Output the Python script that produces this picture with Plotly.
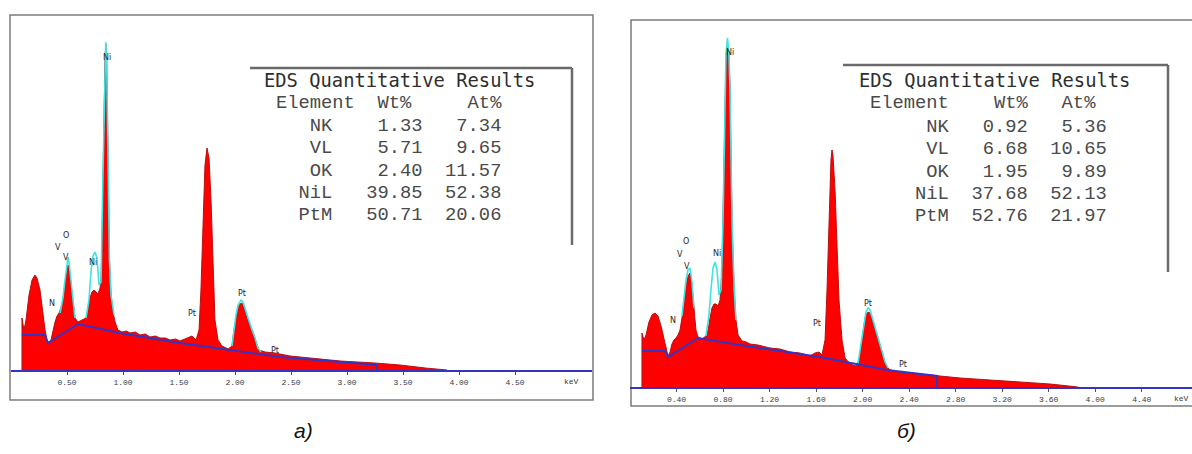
import plotly.graph_objects as go

W, H = 1192, 454

# ---------------- panel (a): EDS spectrum, energy in keV, counts in arb. units
energy_a = [0.098, 0.098, 0.116, 0.134, 0.161, 0.188, 0.214, 0.232, 0.259, 0.286, 0.304, 0.321,
            0.339, 0.357, 0.375, 0.393, 0.411, 0.429, 0.446, 0.464, 0.482, 0.500, 0.509, 0.518,
            0.536, 0.554, 0.571, 0.598, 0.634, 0.670, 0.688, 0.705, 0.723, 0.741, 0.759, 0.777,
            0.795, 0.804, 0.813, 0.821, 0.830, 0.839, 0.846, 0.854, 0.862, 0.871, 0.879, 0.893,
            0.911, 0.929, 0.955, 0.991, 1.030, 1.063, 1.110, 1.152, 1.200, 1.241, 1.290, 1.330,
            1.380, 1.420, 1.470, 1.509, 1.571, 1.616, 1.652, 1.679, 1.696, 1.714, 1.732, 1.750,
            1.768, 1.786, 1.804, 1.821, 1.848, 1.884, 1.938, 1.973, 1.991, 2.009, 2.027, 2.045,
            2.063, 2.080, 2.107, 2.134, 2.161, 2.188, 2.214, 2.268, 2.357, 2.491, 2.670, 2.938,
            3.250, 3.473, 3.700, 3.893]
counts_a = [0, 52, 40, 50, 75, 90, 95, 92, 80, 55, 40, 30,
            27, 30, 40, 48, 54, 57, 62, 70, 85, 102, 105, 102,
            85, 65, 52, 48, 50, 52, 60, 72, 78, 80, 78, 76,
            82, 90, 130, 195, 260, 310, 326, 310, 250, 170, 110, 75,
            58, 48, 40, 38, 39, 37, 38, 35, 36, 33, 34, 32,
            32, 30, 31, 29, 32, 34, 30, 40, 80, 150, 205, 222,
            212, 170, 100, 50, 30, 24, 21, 24, 40, 52, 62, 66,
            67, 62, 52, 45, 38, 28, 20, 18, 17, 14, 12, 9,
            7, 5, 2, 0]

bg_energy_a = [0.098, 0.304, 0.330, 0.598, 0.973, 1.509, 1.955, 2.402, 3.268, 3.268]
bg_counts_a = [35, 35, 27, 46, 37, 27, 20, 13, 5, 0]

fit_energy_a = [0.438, 0.464, 0.482, 0.500, 0.509, 0.518, 0.536, 0.554, 0.571, None,
                0.670, 0.696, 0.714, 0.732, 0.750, 0.768, 0.786, 0.804, 0.821, 0.830, 0.839,
                0.846, 0.854, 0.862, 0.871, 0.879, 0.893, 0.920, None,
                1.973, 1.991, 2.009, 2.027, 2.054, 2.071, 2.098, 2.125, 2.152, 2.179, 2.205, 2.232]
fit_counts_a = [57, 72, 90, 108, 113, 108, 88, 66, 52, None,
                52, 70, 98, 114, 118, 112, 85, 88, 195, 260, 310,
                328, 310, 250, 170, 110, 75, 55, None,
                24, 42, 55, 65, 70, 68, 58, 48, 40, 32, 22, 18]

peak_text_a = ["Ni", "O", "V", "V", "Ni", "N", "Pt", "Pt", "Pt"]
peak_e_a = [0.857, 0.491, 0.420, 0.491, 0.732, 0.366, 1.616, 2.063, 2.357]
peak_c_a = [313, 135, 123, 113, 108, 67, 57, 77, 20]

ticks_a = [0.5, 1.0, 1.5, 2.0, 2.5, 3.0, 3.5, 4.0, 4.5]
ticktext_a = ["0.50", "1.00", "1.50", "2.00", "2.50", "3.00", "3.50", "4.00", "4.50"]
unit_pos_a = 5.0

table_title = "EDS Quantitative Results"
table_rows_a = ["Element  Wt%     At%",
                "   NK    1.33   7.34",
                "   VL    5.71   9.65",
                "   OK    2.40  11.57",
                "  NiL   39.85  52.38",
                "  PtM   50.71  20.06"]

# ---------------- panel (b)
energy_b = [0.103, 0.103, 0.120, 0.138, 0.163, 0.189, 0.215, 0.241, 0.267, 0.292, 0.310, 0.327,
            0.344, 0.361, 0.378, 0.396, 0.413, 0.430, 0.447, 0.464, 0.482, 0.499, 0.516, 0.533,
            0.550, 0.567, 0.585, 0.619, 0.653, 0.671, 0.688, 0.705, 0.722, 0.739, 0.757, 0.774,
            0.791, 0.800, 0.808, 0.817, 0.825, 0.834, 0.843, 0.851, 0.860, 0.868, 0.877, 0.894,
            0.911, 0.929, 0.963, 1.000, 1.032, 1.100, 1.204, 1.290, 1.376, 1.460, 1.548, 1.591,
            1.625, 1.651, 1.677, 1.694, 1.711, 1.728, 1.737, 1.745, 1.763, 1.780, 1.797, 1.823,
            1.849, 1.892, 1.943, 1.969, 1.986, 2.003, 2.021, 2.038, 2.055, 2.072, 2.098, 2.124,
            2.150, 2.175, 2.201, 2.236, 2.322, 2.494, 2.640, 2.837, 3.095, 3.353, 3.611, 3.852]
counts_b = [0, 54, 47, 52, 65, 72, 74, 71, 61, 47, 37, 31,
            35, 43, 47, 49, 52, 57, 69, 87, 102, 111, 114, 102,
            77, 57, 50, 48, 51, 57, 69, 79, 83, 83, 81, 87,
            117, 167, 237, 292, 327, 339, 342, 332, 297, 237, 167, 102,
            67, 52, 46, 45, 43, 42, 39, 38, 35, 34, 31, 34,
            35, 32, 47, 97, 177, 227, 237, 232, 197, 137, 87, 47,
            29, 23, 21, 27, 42, 57, 69, 74, 75, 71, 62, 52,
            42, 32, 21, 17, 15, 13, 11, 9, 7, 5, 3, 0]

bg_energy_b = [0.103, 0.301, 0.327, 0.585, 0.946, 1.634, 2.210, 2.640, 2.640]
bg_counts_b = [36, 36, 30, 49, 42, 30, 17, 11, 0]

fit_energy_b = [0.447, 0.464, 0.482, 0.499, 0.516, 0.533, 0.550, None,
                0.653, 0.679, 0.696, 0.714, 0.731, 0.748, 0.765, 0.783, 0.800, 0.808, 0.817,
                0.825, 0.838, 0.851, 0.860, 0.868, 0.877, 0.894, 0.911, None,
                1.960, 1.978, 1.995, 2.012, 2.029, 2.046, 2.064, 2.089, 2.115, 2.141, 2.167,
                2.193, 2.219]
fit_counts_b = [71, 89, 107, 117, 119, 105, 79, None,
                51, 72, 97, 119, 125, 117, 92, 97, 167, 237, 292,
                332, 349, 332, 297, 237, 167, 102, 67, None,
                23, 37, 52, 65, 75, 79, 77, 67, 57, 47, 37,
                25, 19]

peak_text_b = ["Ni", "O", "V", "V", "Ni", "N", "Pt", "Pt", "Pt"]
peak_e_b = [0.860, 0.482, 0.430, 0.490, 0.748, 0.370, 1.608, 2.046, 2.347]
peak_c_b = [335, 146, 133, 121, 134, 67, 64, 84, 23]

ticks_b = [0.4, 0.8, 1.2, 1.6, 2.0, 2.4, 2.8, 3.2, 3.6, 4.0, 4.4]
ticktext_b = ["0.40", "0.80", "1.20", "1.60", "2.00", "2.40", "2.80", "3.20", "3.60",
              "4.00", "4.40"]

table_rows_b = ["Element    Wt%   At%",
                "     NK   0.92   5.36",
                "     VL   6.68  10.65",
                "     OK   1.95   9.89",
                "    NiL  37.68  52.13",
                "    PtM  52.76  21.97"]

captions = ["а)", "б)"]

# ---------------- styling
RED = "#ff0000"
CYAN = "#3fe3e0"
BLUE = "#3434c4"
FRAME = "#7c7c7c"


def px(x):
    return x / W


def py(y):
    return 1 - y / H


fig = go.Figure()

for e, c, be, bc, fe, fc, xa, ya in [
    (energy_a, counts_a, bg_energy_a, bg_counts_a, fit_energy_a, fit_counts_a, "x", "y"),
    (energy_b, counts_b, bg_energy_b, bg_counts_b, fit_energy_b, fit_counts_b, "x2", "y2"),
]:
    fig.add_trace(go.Scatter(x=e, y=c, mode="lines", fill="tozeroy", fillcolor=RED,
                             line=dict(color="#b81010", width=1), xaxis=xa, yaxis=ya,
                             hoverinfo="skip", showlegend=False))
    fig.add_trace(go.Scatter(x=fe, y=fc, mode="lines", connectgaps=False,
                             line=dict(color=CYAN, width=1.6), xaxis=xa, yaxis=ya,
                             hoverinfo="skip", showlegend=False))
    fig.add_trace(go.Scatter(x=be, y=bc, mode="lines",
                             line=dict(color=BLUE, width=2), xaxis=xa, yaxis=ya,
                             hoverinfo="skip", showlegend=False))

tickfont = dict(family="Liberation Mono, DejaVu Sans Mono", size=8, color="#3a3a3a")
axis_common = dict(showgrid=False, zeroline=False, showline=True, linecolor=BLUE, linewidth=2,
                   ticks="outside", ticklen=3, tickcolor="#555", tickwidth=1,
                   tickfont=tickfont, fixedrange=True)

fig.update_layout(
    width=W, height=H,
    margin=dict(l=0, r=0, t=0, b=0),
    paper_bgcolor="white", plot_bgcolor="rgba(0,0,0,0)",
    xaxis=dict(domain=[px(11), px(592)], range=[0, (592 - 11) / 112], anchor="y",
               tickvals=ticks_a, ticktext=ticktext_a, **axis_common),
    yaxis=dict(domain=[py(370), py(16)], range=[0, 354], visible=False, fixedrange=True),
    xaxis2=dict(domain=[px(630), 1.0], range=[0, (1192 - 630) / 116.3], anchor="y2",
                tickvals=ticks_b, ticktext=ticktext_b, **axis_common),
    yaxis2=dict(domain=[py(387), py(20)], range=[0, 367], visible=False, fixedrange=True,
                anchor="x2"),
)

shapes = []
# panel frames
shapes.append(dict(type="rect", xref="paper", yref="paper", x0=px(10), x1=px(593),
                   y0=py(400), y1=py(15), line=dict(color=FRAME, width=1.5), layer="below"))
shapes.append(dict(type="rect", xref="paper", yref="paper", x0=px(631), x1=px(1210),
                   y0=py(406), y1=py(20), line=dict(color=FRAME, width=1.5), layer="below"))

# results boxes: white panel with a top rule and a right rule
for x0, x1, y0, y1 in [(250, 572, 68, 245), (843, 1168, 65, 272)]:
    shapes.append(dict(type="rect", xref="paper", yref="paper", x0=px(x0), x1=px(x1),
                       y0=py(y1), y1=py(y0), fillcolor="white", line=dict(width=0)))
    shapes.append(dict(type="line", xref="paper", yref="paper", x0=px(x0), x1=px(x1),
                       y0=py(y0), y1=py(y0), line=dict(color="#6a6a6a", width=2.5)))
    shapes.append(dict(type="line", xref="paper", yref="paper", x0=px(x1), x1=px(x1),
                       y0=py(y0), y1=py(y1), line=dict(color="#6a6a6a", width=2.5)))
fig.update_layout(shapes=shapes)

ann = []
# peak markers
for txt, e, c in zip(peak_text_a, peak_e_a, peak_c_a):
    ann.append(dict(x=e, y=c, xref="x", yref="y", text=txt, showarrow=False,
                    font=dict(family="DejaVu Sans", size=8, color="#262626")))
for txt, e, c in zip(peak_text_b, peak_e_b, peak_c_b):
    ann.append(dict(x=e, y=c, xref="x2", yref="y2", text=txt, showarrow=False,
                    font=dict(family="DejaVu Sans", size=8, color="#262626")))

# energy unit at the end of each axis
ann.append(dict(x=unit_pos_a, y=py(381), xref="x", yref="paper", text="keV", showarrow=False,
                xanchor="center", yanchor="middle", font=tickfont))
ann.append(dict(x=px(1191), y=py(398), xref="paper", yref="paper", text="keV",
                showarrow=False, xanchor="right", yanchor="middle", font=tickfont))

# results tables
title_font = dict(family="DejaVu Sans Mono", size=18.8, color="#2e2e2e")
row_font = dict(family="Liberation Mono", size=18.8, color="#4a4a4a")
for tx, rx, ty, rows_y, rows in [
    (262, 274, 80, [103, 126, 148, 171, 193, 215], table_rows_a),
    (857, 868, 81, [103, 127, 149, 172, 194, 216], table_rows_b),
]:
    ann.append(dict(x=px(tx), y=py(ty), xref="paper", yref="paper", text=table_title,
                    showarrow=False, xanchor="left", yanchor="middle", font=title_font))
    for yy, row in zip(rows_y, rows):
        ann.append(dict(x=px(rx), y=py(yy), xref="paper", yref="paper",
                        text=row.replace(" ", "&nbsp;"), showarrow=False,
                        xanchor="left", yanchor="middle", font=row_font))

# panel captions
for cx, cap in zip([303, 906], captions):
    ann.append(dict(x=px(cx), y=py(430), xref="paper", yref="paper", text=cap,
                    showarrow=False, xanchor="center", yanchor="middle",
                    font=dict(family="Liberation Sans Narrow, Liberation Sans", size=21,
                              color="#111", style="italic")))

fig.update_layout(annotations=ann)

fig.write_html("out.html")
